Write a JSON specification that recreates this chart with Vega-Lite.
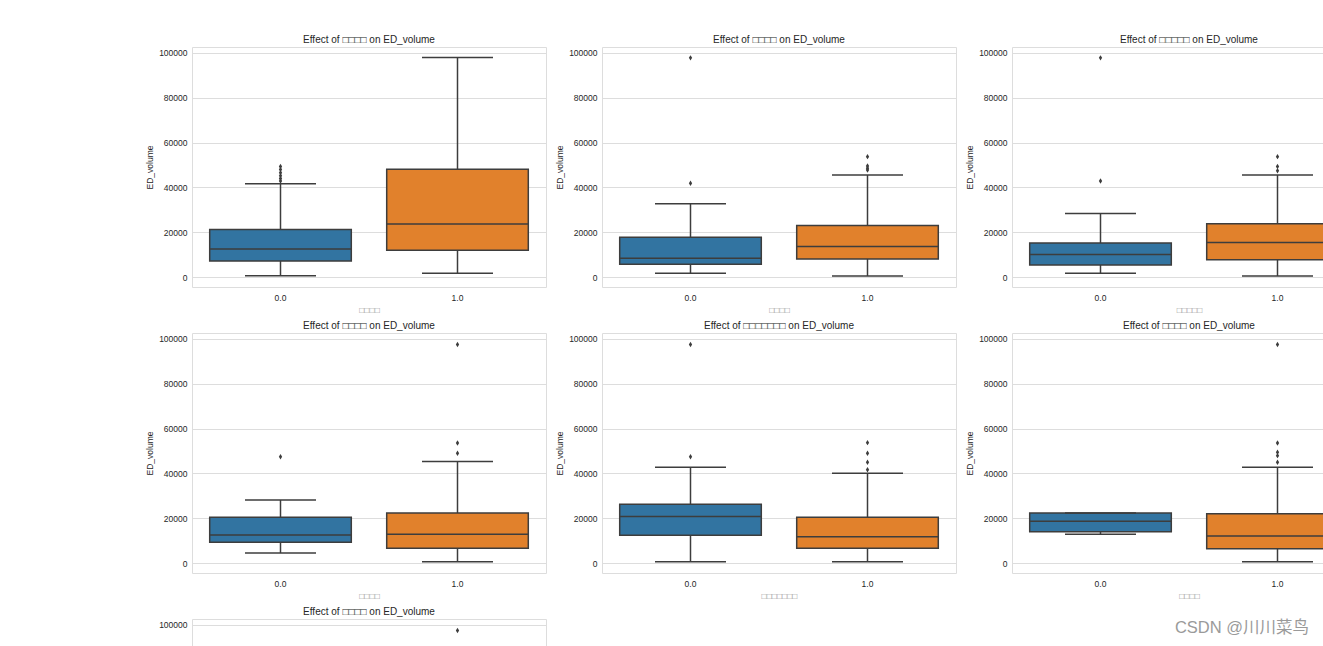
{
  "$schema": "https://vega.github.io/schema/vega-lite/v6.json",
  "padding": {"left": 145, "top": 34, "right": 0, "bottom": 0},
  "background": "white",
  "columns": 3,
  "spacing": {"row": 46, "column": 56},
  "bounds": "flush",
  "datasets": {
    "boxes": [
      {"panel": 1, "group": "0.0", "lo": 600, "q1": 7150, "med": 12550, "q3": 21200, "hi": 41650},
      {"panel": 1, "group": "1.0", "lo": 1650, "q1": 11950, "med": 23700, "q3": 48050, "hi": 97900},
      {"panel": 2, "group": "0.0", "lo": 1650, "q1": 5650, "med": 8350, "q3": 17750, "hi": 32700},
      {"panel": 2, "group": "1.0", "lo": 450, "q1": 8050, "med": 13600, "q3": 23000, "hi": 45500},
      {"panel": 3, "group": "0.0", "lo": 1650, "q1": 5350, "med": 10000, "q3": 15200, "hi": 28350},
      {"panel": 3, "group": "1.0", "lo": 450, "q1": 7750, "med": 15350, "q3": 23750, "hi": 45500},
      {"panel": 4, "group": "0.0", "lo": 4450, "q1": 9250, "med": 12500, "q3": 20400, "hi": 28100},
      {"panel": 4, "group": "1.0", "lo": 600, "q1": 6550, "med": 12800, "q3": 22300, "hi": 45250},
      {"panel": 5, "group": "0.0", "lo": 600, "q1": 12350, "med": 20700, "q3": 26200, "hi": 42700},
      {"panel": 5, "group": "1.0", "lo": 600, "q1": 6550, "med": 11750, "q3": 20400, "hi": 40000},
      {"panel": 6, "group": "0.0", "lo": 12800, "q1": 14000, "med": 18600, "q3": 22300, "hi": 22300},
      {"panel": 6, "group": "1.0", "lo": 600, "q1": 6400, "med": 12050, "q3": 22000, "hi": 42700},
      {"panel": 7, "group": "0.0", "lo": 600, "q1": 7000, "med": 13000, "q3": 21000, "hi": 42000},
      {"panel": 7, "group": "1.0", "lo": 600, "q1": 7000, "med": 13000, "q3": 22500, "hi": 45000}
    ],
    "outliers": [
      {"panel": 1, "group": "0.0", "value": 42800},
      {"panel": 1, "group": "0.0", "value": 43900},
      {"panel": 1, "group": "0.0", "value": 45200},
      {"panel": 1, "group": "0.0", "value": 46500},
      {"panel": 1, "group": "0.0", "value": 48000},
      {"panel": 1, "group": "0.0", "value": 49300},
      {"panel": 2, "group": "0.0", "value": 41800},
      {"panel": 2, "group": "0.0", "value": 97750},
      {"panel": 2, "group": "1.0", "value": 47750},
      {"panel": 2, "group": "1.0", "value": 48500},
      {"panel": 2, "group": "1.0", "value": 49550},
      {"panel": 2, "group": "1.0", "value": 53700},
      {"panel": 3, "group": "0.0", "value": 42850},
      {"panel": 3, "group": "0.0", "value": 97750},
      {"panel": 3, "group": "1.0", "value": 47450},
      {"panel": 3, "group": "1.0", "value": 49250},
      {"panel": 3, "group": "1.0", "value": 53700},
      {"panel": 4, "group": "0.0", "value": 47450},
      {"panel": 4, "group": "1.0", "value": 48950},
      {"panel": 4, "group": "1.0", "value": 53550},
      {"panel": 4, "group": "1.0", "value": 97450},
      {"panel": 5, "group": "0.0", "value": 47450},
      {"panel": 5, "group": "0.0", "value": 97450},
      {"panel": 5, "group": "1.0", "value": 41650},
      {"panel": 5, "group": "1.0", "value": 44950},
      {"panel": 5, "group": "1.0", "value": 48950},
      {"panel": 5, "group": "1.0", "value": 53700},
      {"panel": 6, "group": "1.0", "value": 44950},
      {"panel": 6, "group": "1.0", "value": 47900},
      {"panel": 6, "group": "1.0", "value": 49400},
      {"panel": 6, "group": "1.0", "value": 53550},
      {"panel": 6, "group": "1.0", "value": 97450},
      {"panel": 7, "group": "1.0", "value": 48000},
      {"panel": 7, "group": "1.0", "value": 53500},
      {"panel": 7, "group": "1.0", "value": 97450}
    ]
  },
  "concat": [
    {
      "title": "Effect of □□□□ on ED_volume",
      "width": 354, "height": 240,
      "data": {"name": "boxes"},
      "transform": [{"filter": "datum.panel == 1"}],
      "encoding": {"x": {"field": "group", "type": "nominal", "title": "□□□□", "scale": {"domain": ["0.0", "1.0"], "paddingInner": 0.2, "paddingOuter": 0.1}, "axis": {"labelAngle": 0}}},
      "layer": [
        {"mark": {"type": "rule", "color": "#3d3d3d", "strokeWidth": 1.5}, "encoding": {"y": {"field": "lo", "type": "quantitative", "title": "ED_volume", "scale": {"domain": [-4450, 102600], "nice": false, "zero": false}, "axis": {"values": [0, 20000, 40000, 60000, 80000, 100000], "format": "d"}}, "y2": {"field": "hi"}}},
        {"mark": {"type": "bar", "stroke": "#3d3d3d", "strokeWidth": 1.5}, "encoding": {"y": {"field": "q1", "type": "quantitative", "title": "ED_volume", "scale": {"domain": [-4450, 102600], "nice": false, "zero": false}}, "y2": {"field": "q3"}, "color": {"field": "group", "type": "nominal", "scale": {"domain": ["0.0", "1.0"], "range": ["#3274a1", "#e1812c"]}, "legend": null}}},
        {"mark": {"type": "tick", "color": "#3d3d3d", "thickness": 1.5, "size": 141, "opacity": 1}, "encoding": {"y": {"field": "med", "type": "quantitative", "title": "ED_volume", "scale": {"domain": [-4450, 102600], "nice": false, "zero": false}}}},
        {"mark": {"type": "tick", "color": "#3d3d3d", "thickness": 1.5, "size": 71, "opacity": 1}, "encoding": {"y": {"field": "lo", "type": "quantitative", "title": "ED_volume", "scale": {"domain": [-4450, 102600], "nice": false, "zero": false}}}},
        {"mark": {"type": "tick", "color": "#3d3d3d", "thickness": 1.5, "size": 71, "opacity": 1}, "encoding": {"y": {"field": "hi", "type": "quantitative", "title": "ED_volume", "scale": {"domain": [-4450, 102600], "nice": false, "zero": false}}}},
        {"data": {"name": "outliers"}, "transform": [{"filter": "datum.panel == 1"}], "mark": {"type": "point", "shape": "M0,-1L0.6,0L0,1L-0.6,0Z", "filled": true, "color": "#3d3d3d", "size": 30, "opacity": 1}, "encoding": {"y": {"field": "value", "type": "quantitative", "title": "ED_volume", "scale": {"domain": [-4450, 102600], "nice": false, "zero": false}}}}
      ]
    },
    {
      "title": "Effect of □□□□ on ED_volume",
      "width": 354, "height": 240,
      "data": {"name": "boxes"},
      "transform": [{"filter": "datum.panel == 2"}],
      "encoding": {"x": {"field": "group", "type": "nominal", "title": "□□□□", "scale": {"domain": ["0.0", "1.0"], "paddingInner": 0.2, "paddingOuter": 0.1}, "axis": {"labelAngle": 0}}},
      "layer": [
        {"mark": {"type": "rule", "color": "#3d3d3d", "strokeWidth": 1.5}, "encoding": {"y": {"field": "lo", "type": "quantitative", "title": "ED_volume", "scale": {"domain": [-4450, 102600], "nice": false, "zero": false}, "axis": {"values": [0, 20000, 40000, 60000, 80000, 100000], "format": "d"}}, "y2": {"field": "hi"}}},
        {"mark": {"type": "bar", "stroke": "#3d3d3d", "strokeWidth": 1.5}, "encoding": {"y": {"field": "q1", "type": "quantitative", "title": "ED_volume", "scale": {"domain": [-4450, 102600], "nice": false, "zero": false}}, "y2": {"field": "q3"}, "color": {"field": "group", "type": "nominal", "scale": {"domain": ["0.0", "1.0"], "range": ["#3274a1", "#e1812c"]}, "legend": null}}},
        {"mark": {"type": "tick", "color": "#3d3d3d", "thickness": 1.5, "size": 141, "opacity": 1}, "encoding": {"y": {"field": "med", "type": "quantitative", "title": "ED_volume", "scale": {"domain": [-4450, 102600], "nice": false, "zero": false}}}},
        {"mark": {"type": "tick", "color": "#3d3d3d", "thickness": 1.5, "size": 71, "opacity": 1}, "encoding": {"y": {"field": "lo", "type": "quantitative", "title": "ED_volume", "scale": {"domain": [-4450, 102600], "nice": false, "zero": false}}}},
        {"mark": {"type": "tick", "color": "#3d3d3d", "thickness": 1.5, "size": 71, "opacity": 1}, "encoding": {"y": {"field": "hi", "type": "quantitative", "title": "ED_volume", "scale": {"domain": [-4450, 102600], "nice": false, "zero": false}}}},
        {"data": {"name": "outliers"}, "transform": [{"filter": "datum.panel == 2"}], "mark": {"type": "point", "shape": "M0,-1L0.6,0L0,1L-0.6,0Z", "filled": true, "color": "#3d3d3d", "size": 30, "opacity": 1}, "encoding": {"y": {"field": "value", "type": "quantitative", "title": "ED_volume", "scale": {"domain": [-4450, 102600], "nice": false, "zero": false}}}}
      ]
    },
    {
      "title": "Effect of □□□□□ on ED_volume",
      "width": 354, "height": 240,
      "data": {"name": "boxes"},
      "transform": [{"filter": "datum.panel == 3"}],
      "encoding": {"x": {"field": "group", "type": "nominal", "title": "□□□□□", "scale": {"domain": ["0.0", "1.0"], "paddingInner": 0.2, "paddingOuter": 0.1}, "axis": {"labelAngle": 0}}},
      "layer": [
        {"mark": {"type": "rule", "color": "#3d3d3d", "strokeWidth": 1.5}, "encoding": {"y": {"field": "lo", "type": "quantitative", "title": "ED_volume", "scale": {"domain": [-4450, 102600], "nice": false, "zero": false}, "axis": {"values": [0, 20000, 40000, 60000, 80000, 100000], "format": "d"}}, "y2": {"field": "hi"}}},
        {"mark": {"type": "bar", "stroke": "#3d3d3d", "strokeWidth": 1.5}, "encoding": {"y": {"field": "q1", "type": "quantitative", "title": "ED_volume", "scale": {"domain": [-4450, 102600], "nice": false, "zero": false}}, "y2": {"field": "q3"}, "color": {"field": "group", "type": "nominal", "scale": {"domain": ["0.0", "1.0"], "range": ["#3274a1", "#e1812c"]}, "legend": null}}},
        {"mark": {"type": "tick", "color": "#3d3d3d", "thickness": 1.5, "size": 141, "opacity": 1}, "encoding": {"y": {"field": "med", "type": "quantitative", "title": "ED_volume", "scale": {"domain": [-4450, 102600], "nice": false, "zero": false}}}},
        {"mark": {"type": "tick", "color": "#3d3d3d", "thickness": 1.5, "size": 71, "opacity": 1}, "encoding": {"y": {"field": "lo", "type": "quantitative", "title": "ED_volume", "scale": {"domain": [-4450, 102600], "nice": false, "zero": false}}}},
        {"mark": {"type": "tick", "color": "#3d3d3d", "thickness": 1.5, "size": 71, "opacity": 1}, "encoding": {"y": {"field": "hi", "type": "quantitative", "title": "ED_volume", "scale": {"domain": [-4450, 102600], "nice": false, "zero": false}}}},
        {"data": {"name": "outliers"}, "transform": [{"filter": "datum.panel == 3"}], "mark": {"type": "point", "shape": "M0,-1L0.6,0L0,1L-0.6,0Z", "filled": true, "color": "#3d3d3d", "size": 30, "opacity": 1}, "encoding": {"y": {"field": "value", "type": "quantitative", "title": "ED_volume", "scale": {"domain": [-4450, 102600], "nice": false, "zero": false}}}}
      ]
    },
    {
      "title": "Effect of □□□□ on ED_volume",
      "width": 354, "height": 240,
      "data": {"name": "boxes"},
      "transform": [{"filter": "datum.panel == 4"}],
      "encoding": {"x": {"field": "group", "type": "nominal", "title": "□□□□", "scale": {"domain": ["0.0", "1.0"], "paddingInner": 0.2, "paddingOuter": 0.1}, "axis": {"labelAngle": 0}}},
      "layer": [
        {"mark": {"type": "rule", "color": "#3d3d3d", "strokeWidth": 1.5}, "encoding": {"y": {"field": "lo", "type": "quantitative", "title": "ED_volume", "scale": {"domain": [-4450, 102600], "nice": false, "zero": false}, "axis": {"values": [0, 20000, 40000, 60000, 80000, 100000], "format": "d"}}, "y2": {"field": "hi"}}},
        {"mark": {"type": "bar", "stroke": "#3d3d3d", "strokeWidth": 1.5}, "encoding": {"y": {"field": "q1", "type": "quantitative", "title": "ED_volume", "scale": {"domain": [-4450, 102600], "nice": false, "zero": false}}, "y2": {"field": "q3"}, "color": {"field": "group", "type": "nominal", "scale": {"domain": ["0.0", "1.0"], "range": ["#3274a1", "#e1812c"]}, "legend": null}}},
        {"mark": {"type": "tick", "color": "#3d3d3d", "thickness": 1.5, "size": 141, "opacity": 1}, "encoding": {"y": {"field": "med", "type": "quantitative", "title": "ED_volume", "scale": {"domain": [-4450, 102600], "nice": false, "zero": false}}}},
        {"mark": {"type": "tick", "color": "#3d3d3d", "thickness": 1.5, "size": 71, "opacity": 1}, "encoding": {"y": {"field": "lo", "type": "quantitative", "title": "ED_volume", "scale": {"domain": [-4450, 102600], "nice": false, "zero": false}}}},
        {"mark": {"type": "tick", "color": "#3d3d3d", "thickness": 1.5, "size": 71, "opacity": 1}, "encoding": {"y": {"field": "hi", "type": "quantitative", "title": "ED_volume", "scale": {"domain": [-4450, 102600], "nice": false, "zero": false}}}},
        {"data": {"name": "outliers"}, "transform": [{"filter": "datum.panel == 4"}], "mark": {"type": "point", "shape": "M0,-1L0.6,0L0,1L-0.6,0Z", "filled": true, "color": "#3d3d3d", "size": 30, "opacity": 1}, "encoding": {"y": {"field": "value", "type": "quantitative", "title": "ED_volume", "scale": {"domain": [-4450, 102600], "nice": false, "zero": false}}}}
      ]
    },
    {
      "title": "Effect of □□□□□□□ on ED_volume",
      "width": 354, "height": 240,
      "data": {"name": "boxes"},
      "transform": [{"filter": "datum.panel == 5"}],
      "encoding": {"x": {"field": "group", "type": "nominal", "title": "□□□□□□□", "scale": {"domain": ["0.0", "1.0"], "paddingInner": 0.2, "paddingOuter": 0.1}, "axis": {"labelAngle": 0}}},
      "layer": [
        {"mark": {"type": "rule", "color": "#3d3d3d", "strokeWidth": 1.5}, "encoding": {"y": {"field": "lo", "type": "quantitative", "title": "ED_volume", "scale": {"domain": [-4450, 102600], "nice": false, "zero": false}, "axis": {"values": [0, 20000, 40000, 60000, 80000, 100000], "format": "d"}}, "y2": {"field": "hi"}}},
        {"mark": {"type": "bar", "stroke": "#3d3d3d", "strokeWidth": 1.5}, "encoding": {"y": {"field": "q1", "type": "quantitative", "title": "ED_volume", "scale": {"domain": [-4450, 102600], "nice": false, "zero": false}}, "y2": {"field": "q3"}, "color": {"field": "group", "type": "nominal", "scale": {"domain": ["0.0", "1.0"], "range": ["#3274a1", "#e1812c"]}, "legend": null}}},
        {"mark": {"type": "tick", "color": "#3d3d3d", "thickness": 1.5, "size": 141, "opacity": 1}, "encoding": {"y": {"field": "med", "type": "quantitative", "title": "ED_volume", "scale": {"domain": [-4450, 102600], "nice": false, "zero": false}}}},
        {"mark": {"type": "tick", "color": "#3d3d3d", "thickness": 1.5, "size": 71, "opacity": 1}, "encoding": {"y": {"field": "lo", "type": "quantitative", "title": "ED_volume", "scale": {"domain": [-4450, 102600], "nice": false, "zero": false}}}},
        {"mark": {"type": "tick", "color": "#3d3d3d", "thickness": 1.5, "size": 71, "opacity": 1}, "encoding": {"y": {"field": "hi", "type": "quantitative", "title": "ED_volume", "scale": {"domain": [-4450, 102600], "nice": false, "zero": false}}}},
        {"data": {"name": "outliers"}, "transform": [{"filter": "datum.panel == 5"}], "mark": {"type": "point", "shape": "M0,-1L0.6,0L0,1L-0.6,0Z", "filled": true, "color": "#3d3d3d", "size": 30, "opacity": 1}, "encoding": {"y": {"field": "value", "type": "quantitative", "title": "ED_volume", "scale": {"domain": [-4450, 102600], "nice": false, "zero": false}}}}
      ]
    },
    {
      "title": "Effect of □□□□ on ED_volume",
      "width": 354, "height": 240,
      "data": {"name": "boxes"},
      "transform": [{"filter": "datum.panel == 6"}],
      "encoding": {"x": {"field": "group", "type": "nominal", "title": "□□□□", "scale": {"domain": ["0.0", "1.0"], "paddingInner": 0.2, "paddingOuter": 0.1}, "axis": {"labelAngle": 0}}},
      "layer": [
        {"mark": {"type": "rule", "color": "#3d3d3d", "strokeWidth": 1.5}, "encoding": {"y": {"field": "lo", "type": "quantitative", "title": "ED_volume", "scale": {"domain": [-4450, 102600], "nice": false, "zero": false}, "axis": {"values": [0, 20000, 40000, 60000, 80000, 100000], "format": "d"}}, "y2": {"field": "hi"}}},
        {"mark": {"type": "bar", "stroke": "#3d3d3d", "strokeWidth": 1.5}, "encoding": {"y": {"field": "q1", "type": "quantitative", "title": "ED_volume", "scale": {"domain": [-4450, 102600], "nice": false, "zero": false}}, "y2": {"field": "q3"}, "color": {"field": "group", "type": "nominal", "scale": {"domain": ["0.0", "1.0"], "range": ["#3274a1", "#e1812c"]}, "legend": null}}},
        {"mark": {"type": "tick", "color": "#3d3d3d", "thickness": 1.5, "size": 141, "opacity": 1}, "encoding": {"y": {"field": "med", "type": "quantitative", "title": "ED_volume", "scale": {"domain": [-4450, 102600], "nice": false, "zero": false}}}},
        {"mark": {"type": "tick", "color": "#3d3d3d", "thickness": 1.5, "size": 71, "opacity": 1}, "encoding": {"y": {"field": "lo", "type": "quantitative", "title": "ED_volume", "scale": {"domain": [-4450, 102600], "nice": false, "zero": false}}}},
        {"mark": {"type": "tick", "color": "#3d3d3d", "thickness": 1.5, "size": 71, "opacity": 1}, "encoding": {"y": {"field": "hi", "type": "quantitative", "title": "ED_volume", "scale": {"domain": [-4450, 102600], "nice": false, "zero": false}}}},
        {"data": {"name": "outliers"}, "transform": [{"filter": "datum.panel == 6"}], "mark": {"type": "point", "shape": "M0,-1L0.6,0L0,1L-0.6,0Z", "filled": true, "color": "#3d3d3d", "size": 30, "opacity": 1}, "encoding": {"y": {"field": "value", "type": "quantitative", "title": "ED_volume", "scale": {"domain": [-4450, 102600], "nice": false, "zero": false}}}}
      ]
    },
    {
      "title": "Effect of □□□□ on ED_volume",
      "width": 354, "height": 240,
      "data": {"name": "boxes"},
      "transform": [{"filter": "datum.panel == 7"}],
      "encoding": {"x": {"field": "group", "type": "nominal", "title": "□□□□", "scale": {"domain": ["0.0", "1.0"], "paddingInner": 0.2, "paddingOuter": 0.1}, "axis": {"labelAngle": 0}}},
      "layer": [
        {"mark": {"type": "rule", "color": "#3d3d3d", "strokeWidth": 1.5}, "encoding": {"y": {"field": "lo", "type": "quantitative", "title": "ED_volume", "scale": {"domain": [-4450, 102600], "nice": false, "zero": false}, "axis": {"values": [0, 20000, 40000, 60000, 80000, 100000], "format": "d"}}, "y2": {"field": "hi"}}},
        {"mark": {"type": "bar", "stroke": "#3d3d3d", "strokeWidth": 1.5}, "encoding": {"y": {"field": "q1", "type": "quantitative", "title": "ED_volume", "scale": {"domain": [-4450, 102600], "nice": false, "zero": false}}, "y2": {"field": "q3"}, "color": {"field": "group", "type": "nominal", "scale": {"domain": ["0.0", "1.0"], "range": ["#3274a1", "#e1812c"]}, "legend": null}}},
        {"mark": {"type": "tick", "color": "#3d3d3d", "thickness": 1.5, "size": 141, "opacity": 1}, "encoding": {"y": {"field": "med", "type": "quantitative", "title": "ED_volume", "scale": {"domain": [-4450, 102600], "nice": false, "zero": false}}}},
        {"mark": {"type": "tick", "color": "#3d3d3d", "thickness": 1.5, "size": 71, "opacity": 1}, "encoding": {"y": {"field": "lo", "type": "quantitative", "title": "ED_volume", "scale": {"domain": [-4450, 102600], "nice": false, "zero": false}}}},
        {"mark": {"type": "tick", "color": "#3d3d3d", "thickness": 1.5, "size": 71, "opacity": 1}, "encoding": {"y": {"field": "hi", "type": "quantitative", "title": "ED_volume", "scale": {"domain": [-4450, 102600], "nice": false, "zero": false}}}},
        {"data": {"name": "outliers"}, "transform": [{"filter": "datum.panel == 7"}], "mark": {"type": "point", "shape": "M0,-1L0.6,0L0,1L-0.6,0Z", "filled": true, "color": "#3d3d3d", "size": 30, "opacity": 1}, "encoding": {"y": {"field": "value", "type": "quantitative", "title": "ED_volume", "scale": {"domain": [-4450, 102600], "nice": false, "zero": false}}}}
      ]
    },
    {
      "width": 1, "height": 1,
      "view": {"stroke": null},
      "data": {"name": "outliers"},
      "transform": [{"filter": "datum.panel == 0"}],
      "mark": "point",
      "encoding": {}
    },
    {
      "width": 297, "height": 1,
      "view": {"stroke": null},
      "title": {"text": "CSDN @川川菜鸟", "orient": "bottom", "anchor": "end", "offset": 0, "fontSize": 16.5, "color": "#9a9a9a", "font": "Liberation Sans, Noto Sans CJK SC"},
      "data": {"name": "outliers"},
      "transform": [{"filter": "datum.panel == 0"}],
      "mark": "point",
      "encoding": {}
    }
  ],
  "config": {
    "font": "Liberation Sans, DejaVu Sans",
    "view": {"stroke": "#dddddd", "strokeWidth": 1},
    "axis": {
      "labelFont": "Liberation Sans, DejaVu Sans", "labelFontSize": 8.5, "labelColor": "#262626",
      "titleFont": "Liberation Sans, DejaVu Sans", "titleFontSize": 8.5, "titleFontWeight": "normal", "titleColor": "#262626",
      "domain": false, "ticks": false, "tickSize": 0,
      "gridColor": "#dddddd", "gridWidth": 1, "gridOpacity": 1
    },
    "axisX": {"grid": false, "labelPadding": 6, "titlePadding": 4, "titleColor": "#8a8a8a"},
    "axisY": {"labelPadding": 5, "titlePadding": 4},
    "title": {"font": "Liberation Sans, DejaVu Sans", "fontSize": 10, "fontWeight": "normal", "color": "#262626", "offset": 2}
  }
}
